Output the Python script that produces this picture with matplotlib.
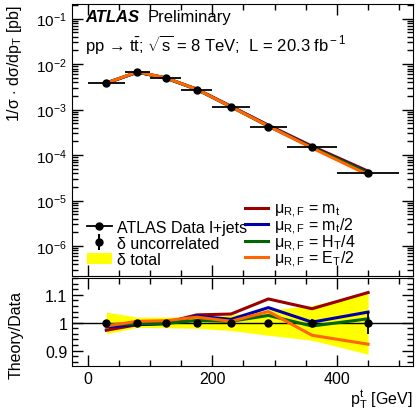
import matplotlib
matplotlib.use('Agg')
import matplotlib.pyplot as plt
import numpy as np
from matplotlib.ticker import MultipleLocator, LogLocator, NullFormatter, FixedLocator
from matplotlib.lines import Line2D
from matplotlib.patches import Patch

plt.rcParams['font.family'] = ['Liberation Sans', 'DejaVu Sans']
plt.rcParams['mathtext.fontset'] = 'custom'
plt.rcParams['mathtext.rm'] = 'Liberation Sans'
plt.rcParams['mathtext.it'] = 'Liberation Sans:italic'
plt.rcParams['mathtext.bf'] = 'Liberation Sans:bold'

# data: top pT bins (GeV)
bin_lo = [0, 60, 100, 150, 200, 260, 320, 400]
bin_hi = [60, 100, 150, 200, 260, 320, 400, 500]
bin_c = [30, 80, 125, 175, 230, 290, 360, 450]
data = [3.9e-3, 6.7e-3, 5.0e-3, 2.75e-3, 1.15e-3, 4.2e-4, 1.5e-4, 4.0e-5]

# ratios theory/data
r_mt = [0.973, 0.993, 1.0, 1.028, 1.031, 1.085, 1.050, 1.108]
r_mt2 = [0.985, 0.993, 0.996, 1.024, 1.012, 1.054, 1.002, 1.038]
r_ht4 = [0.993, 0.996, 0.997, 1.008, 1.005, 1.026, 0.988, 1.014]
r_et2 = [0.988, 1.005, 1.007, 1.020, 1.005, 1.040, 0.955, 0.923]

# uncertainties (relative)
unc_err = [0.004, 0.004, 0.004, 0.004, 0.005, 0.007, 0.012, 0.040]
tot_up = [1.038, 1.020, 1.020, 1.020, 1.028, 1.045, 1.061, 1.110]
tot_dn = [0.961, 0.983, 0.982, 0.980, 0.972, 0.955, 0.937, 0.887]

names = ['μ$_{\\rm R,F}$ = m$_{\\rm t}$', 'μ$_{\\rm R,F}$ = m$_{\\rm t}$/2',
         'μ$_{\\rm R,F}$ = H$_{\\rm T}$/4', 'μ$_{\\rm R,F}$ = E$_{\\rm T}$/2']
cols = ['#990000', '#0000aa', '#006600', '#ff6600']
ratios = [r_mt, r_mt2, r_ht4, r_et2]

x = np.array(bin_c)
xerr = [np.array(bin_c) - np.array(bin_lo), np.array(bin_hi) - np.array(bin_c)]
d = np.array(data)

W, H = 416, 410
fig = plt.figure(figsize=(W/100, H/100), dpi=100)
ax = fig.add_axes([72/W, 1-277/H, 341/W, 272/H])
rx = fig.add_axes([72/W, 1-367/H, 341/W, 88/H])

fs = 11
lfs = 11.5
for r, c in zip(ratios, cols):
    ax.plot(x, d*np.array(r), color=c, lw=2.2, zorder=2)
ax.errorbar(x, d, xerr=xerr, fmt='o', color='black', ms=5, elinewidth=1.3, capsize=0, zorder=3)

ax.set_yscale('log')
ax.set_ylim(2.2e-7, 0.21)
ax.set_xlim(-25, 522)
ax.yaxis.set_major_locator(LogLocator(base=10, numticks=20))
ax.yaxis.set_minor_locator(LogLocator(base=10, subs=np.arange(2, 10), numticks=20))
ax.yaxis.set_minor_formatter(NullFormatter())
ax.xaxis.set_major_locator(MultipleLocator(200))
ax.xaxis.set_minor_locator(MultipleLocator(50))
ax.tick_params(which='both', direction='in', top=True, right=True, labelsize=fs)
ax.tick_params(which='major', length=8, width=1)
ax.tick_params(which='minor', length=4, width=1)
ax.tick_params(axis='x', labelbottom=False)
ax.set_ylabel('1/σ $\\cdot$ dσ/dp$_{\\rm T}$ [pb]', fontsize=lfs)
ax.yaxis.set_label_coords(-0.141, 1.0)
ax.yaxis.label.set_horizontalalignment('right')

ax.text(0.038, 0.955, 'ATLAS', transform=ax.transAxes, fontsize=12,
        fontweight='bold', fontstyle='italic', va='center')
ax.text(0.222, 0.955, 'Preliminary', transform=ax.transAxes, fontsize=12, va='center')
ax.text(0.038, 0.853, 'pp → t$\\bar{\\rm t}$; $\\sqrt{\\rm s}$ = 8 TeV;  L = 20.3 fb$^{\\rm -1}$',
        transform=ax.transAxes, fontsize=12, va='center')

h1 = [Line2D([], [], color='black', marker='o', ms=5, lw=1.3),
      ax.errorbar([], [], yerr=[], fmt='o', color='black', ms=5),
      Patch(facecolor='#ffff00', edgecolor='none')]
l1 = ax.legend(h1, ['ATLAS Data l+jets', 'δ uncorrelated', 'δ total'],
               loc='lower left', bbox_to_anchor=(0.044, 0.032), frameon=False,
               fontsize=lfs, borderpad=0, borderaxespad=0, handlelength=1.55,
               handletextpad=0.3, labelspacing=0.08)
ax.add_artist(l1)
h2 = [Line2D([], [], color=c, lw=2.2) for c in cols]
ax.legend(h2, names, loc='lower left', bbox_to_anchor=(0.507, 0.025), frameon=False,
          fontsize=lfs, borderpad=0, borderaxespad=0, handlelength=1.45,
          handletextpad=0.35, labelspacing=-0.23)

# ratio panel
rx.fill_between(x, tot_dn, tot_up, color='#ffff00', lw=0, zorder=1)
rx.axhline(1, color='black', lw=1, zorder=2)
for r, c in zip(ratios, cols):
    rx.plot(x, r, color=c, lw=2.2, zorder=3)
rx.errorbar(x, np.ones(len(x)), yerr=unc_err, fmt='o', color='black', ms=5,
            elinewidth=1.3, capsize=0, zorder=4)
rx.set_xlim(-25, 522)
rx.set_ylim(0.845, 1.16)
rx.yaxis.set_major_locator(FixedLocator([0.9, 1.0, 1.1]))
rx.yaxis.set_minor_locator(MultipleLocator(0.02))
rx.set_yticklabels(['0.9', '1', '1.1'])
rx.xaxis.set_major_locator(MultipleLocator(200))
rx.xaxis.set_minor_locator(MultipleLocator(50))
rx.tick_params(which='both', direction='in', top=True, right=True, labelsize=lfs)
rx.tick_params(which='major', length=8, width=1)
rx.tick_params(which='minor', length=4, width=1)
rx.set_ylabel('Theory/Data', fontsize=lfs)
rx.yaxis.set_label_coords(-0.141, 0.36)
rx.set_xlabel('p$_{\\rm T}^{\\rm t}$ [GeV]', fontsize=lfs, loc='right', labelpad=1)

fig.savefig('out.png', dpi=100)
